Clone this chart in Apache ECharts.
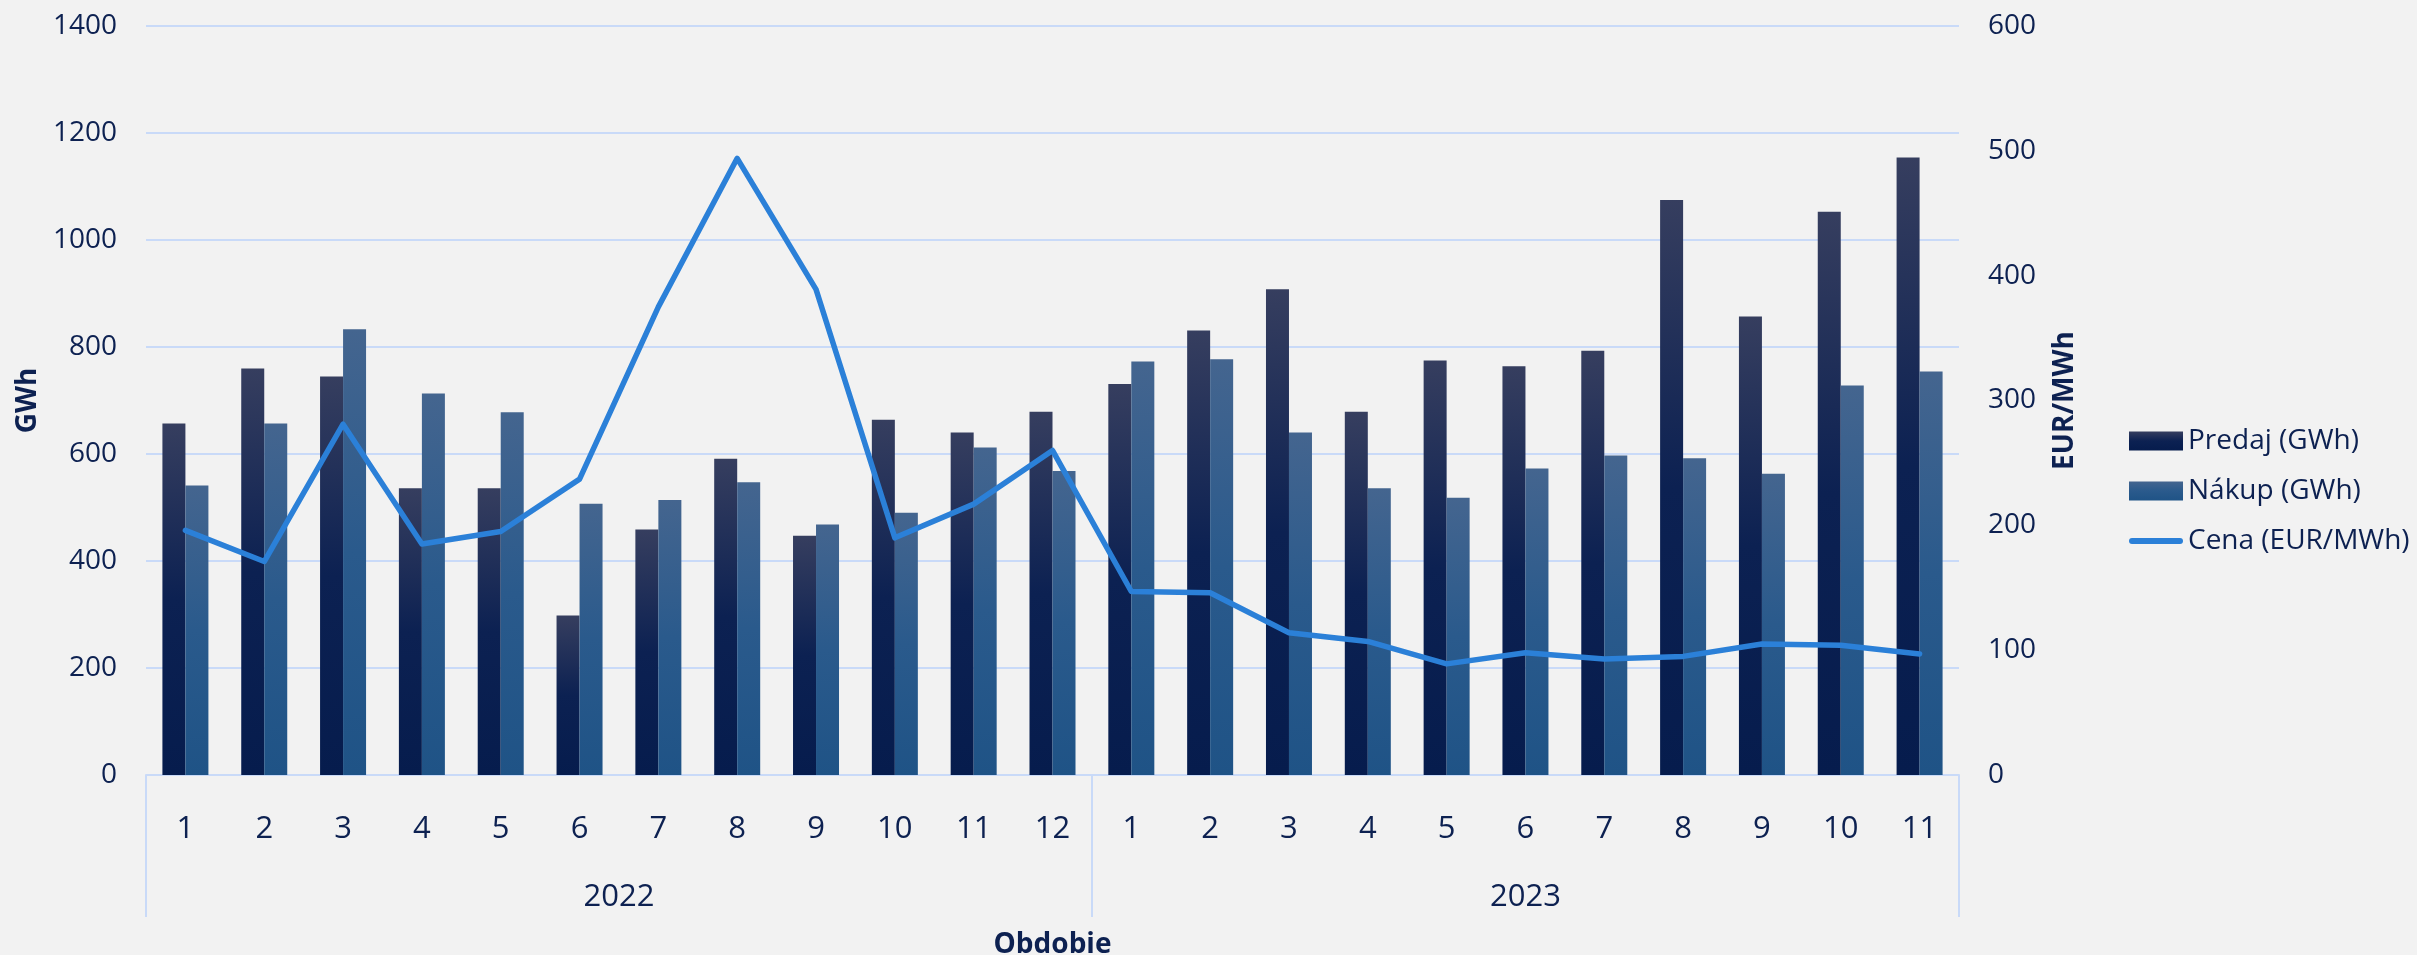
<!DOCTYPE html>
<html>
<head>
<meta charset="utf-8">
<script src="https://cdn.jsdelivr.net/npm/echarts@6/dist/echarts.min.js"></script>
<style>
  html, body { margin: 0; padding: 0; background: #F2F2F2; }
  #chart { width: 2417px; height: 955px; }
</style>
</head>
<body>
<div id="chart"></div>
<script>
// ---- data ----
const years = ['2022', '2023'];
const months2022 = ['1','2','3','4','5','6','7','8','9','10','11','12'];
const months2023 = ['1','2','3','4','5','6','7','8','9','10','11'];
const predaj = [657, 760, 745, 536, 536, 298, 459, 591, 447, 664, 640, 679,
                731, 831, 908, 679, 775, 764, 793, 1075, 857, 1053, 1154];
const nakup  = [541, 657, 833, 713, 678, 507, 514, 547, 468, 490, 612, 568,
                773, 777, 640, 536, 518, 573, 597, 592, 563, 728, 754];
const cena   = [196, 171, 281, 185, 195, 237, 375, 494, 389, 190, 217, 260,
                147, 146, 114, 107, 89, 98, 93, 95, 105, 104, 97];
const leftTicks = [0, 200, 400, 600, 800, 1000, 1200, 1400];
const rightTicks = [0, 100, 200, 300, 400, 500, 600];

// ---- derived ----
const categories = months2022.concat(months2023);
const groupSizes = [months2022.length, months2023.length];
const bounds = [0];
groupSizes.forEach(n => bounds.push(bounds[bounds.length - 1] + n));
const yearCenters = groupSizes.map((n, i) => bounds[i] + n / 2);

const FONT = '"Open Sans", "Noto Sans", sans-serif';
const TXT = '#0D2151';
const GRID = '#C9DAF8';
const LINE = '#2B80D8';

const chart = echarts.init(document.getElementById('chart'), null, { renderer: 'canvas' });

chart.setOption({
  backgroundColor: '#F2F2F2',
  textStyle: { fontFamily: FONT, color: TXT },
  animation: false,
  grid: { left: 146, right: 458, top: 26, bottom: 180, containLabel: false, outerBoundsMode: 'none' },
  legend: {
    orient: 'vertical',
    left: 2124,
    top: 422,
    itemWidth: 54,
    itemHeight: 19,
    itemGap: 22,
    textStyle: { fontFamily: FONT, fontSize: 28, color: TXT },
    data: [
      { name: 'Predaj (GWh)', icon: 'rect' },
      { name: 'Nákup (GWh)', icon: 'rect' },
      { name: 'Cena (EUR/MWh)',
        icon: 'path://M3,0 L51,0 A3,3 0 0 1 51,6 L3,6 A3,3 0 0 1 3,0 Z',
        itemStyle: { color: LINE } }
    ]
  },
  xAxis: [
    {
      type: 'category',
      data: categories,
      position: 'bottom',
      axisLine: { show: true, lineStyle: { color: GRID, width: 2 } },
      axisTick: { show: false },
      axisLabel: { fontFamily: FONT, fontSize: 31, color: TXT, margin: 39, interval: 0 },
      splitLine: { show: false }
    },
    {
      type: 'value',
      min: bounds[0],
      max: bounds[bounds.length - 1],
      position: 'bottom',
      axisLine: { show: false },
      splitLine: { show: false },
      axisTick: {
        show: true,
        customValues: bounds,
        length: 142,
        lineStyle: { color: GRID, width: 2 }
      },
      axisLabel: {
        show: true,
        customValues: yearCenters,
        formatter: function (v) {
          const idx = yearCenters.findIndex(c => Math.abs(c - v) < 1e-6);
          return idx >= 0 ? years[idx] : '';
        },
        fontFamily: FONT, fontSize: 31, color: TXT, margin: 107
      },
      name: 'Obdobie',
      nameLocation: 'middle',
      nameGap: 156,
      nameTextStyle: { fontFamily: FONT, fontSize: 28, fontWeight: 'bold', color: TXT }
    }
  ],
  yAxis: [
    {
      type: 'value',
      min: leftTicks[0],
      max: leftTicks[leftTicks.length - 1],
      interval: leftTicks[1] - leftTicks[0],
      axisLine: { show: false },
      axisTick: { show: false },
      axisLabel: { fontFamily: FONT, fontSize: 28, color: TXT, margin: 29,
                   formatter: v => String(v) },
      splitLine: { show: true, lineStyle: { color: GRID, width: 2 } },
      name: 'GWh',
      nameLocation: 'middle',
      nameGap: 100,
      nameRotate: 90,
      nameTextStyle: { fontFamily: FONT, fontSize: 28, fontWeight: 'bold', color: TXT }
    },
    {
      type: 'value',
      position: 'right',
      min: rightTicks[0],
      max: rightTicks[rightTicks.length - 1],
      interval: rightTicks[1] - rightTicks[0],
      axisLine: { show: false },
      axisTick: { show: false },
      axisLabel: { fontFamily: FONT, fontSize: 28, color: TXT, margin: 29,
                   formatter: v => String(v) },
      splitLine: { show: false },
      name: 'EUR/MWh',
      nameLocation: 'middle',
      nameGap: 92,
      nameRotate: 90,
      nameTextStyle: { fontFamily: FONT, fontSize: 28, fontWeight: 'bold', color: TXT }
    }
  ],
  series: [
    {
      name: 'Predaj (GWh)',
      type: 'bar',
      xAxisIndex: 0,
      yAxisIndex: 0,
      data: predaj,
      barWidth: 23,
      barGap: '0%',
      itemStyle: {
        color: new echarts.graphic.LinearGradient(0, 0, 0, 1, [
          { offset: 0, color: '#363E5F' },
          { offset: 0.5, color: '#0C2152' },
          { offset: 1, color: '#061C4D' }
        ])
      }
    },
    {
      name: 'Nákup (GWh)',
      type: 'bar',
      xAxisIndex: 0,
      yAxisIndex: 0,
      data: nakup,
      barWidth: 23,
      barGap: '0%',
      itemStyle: {
        color: new echarts.graphic.LinearGradient(0, 0, 0, 1, [
          { offset: 0, color: '#44658F' },
          { offset: 0.5, color: '#2A5A8C' },
          { offset: 1, color: '#1F5386' }
        ])
      }
    },
    {
      name: 'Cena (EUR/MWh)',
      type: 'line',
      xAxisIndex: 0,
      yAxisIndex: 1,
      data: cena,
      symbol: 'none',
      smooth: false,
      lineStyle: { color: LINE, width: 5.5, cap: 'round', join: 'round' },
      itemStyle: { color: LINE }
    }
  ]
});
</script>
</body>
</html>
